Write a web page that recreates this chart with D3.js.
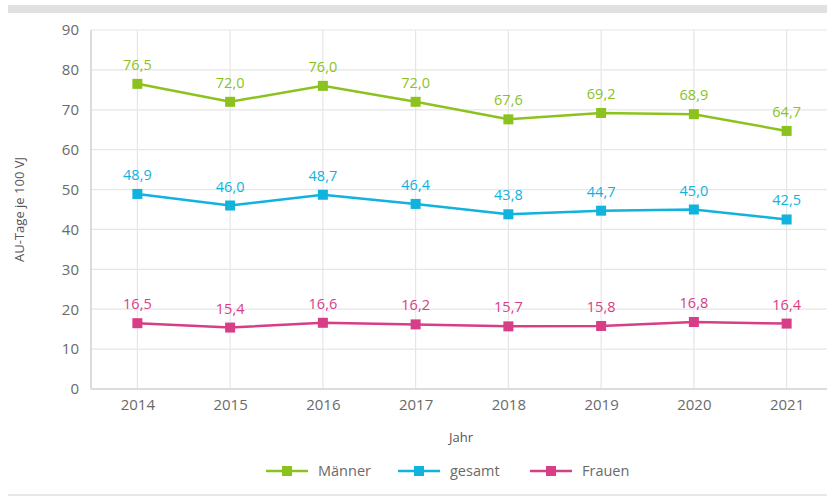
<!DOCTYPE html>
<html>
<head>
<meta charset="utf-8">
<script src="https://cdn.jsdelivr.net/npm/d3@7"></script>
<style>
  body { margin: 0; background: #fff; }
  text { font-family: "Open Sans", "Noto Sans", sans-serif; }
</style>
</head>
<body>
<div id="chart"></div>
<script>
var years = ["2014", "2015", "2016", "2017", "2018", "2019", "2020", "2021"];
var maenner = [76.5, 72.0, 76.0, 72.0, 67.6, 69.2, 68.9, 64.7];
var gesamt = [48.9, 46.0, 48.7, 46.4, 43.8, 44.7, 45.0, 42.5];
var frauen = [16.5, 15.4, 16.6, 16.2, 15.7, 15.8, 16.8, 16.4];
var yTicks = [0, 10, 20, 30, 40, 50, 60, 70, 80, 90];

var seriesList = [
  { name: "Männer", values: maenner, color: "#8cc21e" },
  { name: "gesamt", values: gesamt, color: "#10b2de" },
  { name: "Frauen", values: frauen, color: "#d83d88" }
];

var W = 827, H = 496;
var margin = { top: 30, left: 91, bottom: 107 };
var plotW = 742, plotH = H - margin.top - margin.bottom;

var svg = d3.select("#chart").append("svg")
  .attr("width", W).attr("height", H);

// frame bars
svg.append("rect").attr("x", 8).attr("y", 5).attr("width", W - 8).attr("height", 8).attr("fill", "#e1e1e1");
svg.append("rect").attr("x", 8).attr("y", 494).attr("width", W - 8).attr("height", 2).attr("fill", "#e8e8e8");

var g = svg.append("g").attr("transform", "translate(" + margin.left + "," + margin.top + ")");

var x = d3.scalePoint().domain(years).range([0, plotW]).padding(0.5);
var y = d3.scaleLinear().domain([0, 90]).range([plotH, 0]);

// grid
g.selectAll(".hgrid").data(yTicks).enter().append("line")
  .attr("x1", 0).attr("x2", plotW)
  .attr("y1", function (d) { return y(d); }).attr("y2", function (d) { return y(d); })
  .attr("stroke", "#e6e6e6").attr("stroke-width", 1.2);
g.selectAll(".vgrid").data(years).enter().append("line")
  .attr("x1", function (d) { return x(d); }).attr("x2", function (d) { return x(d); })
  .attr("y1", 0).attr("y2", plotH)
  .attr("stroke", "#e6e6e6").attr("stroke-width", 1.2);

// axes lines
g.append("line").attr("x1", 0).attr("x2", 0).attr("y1", 0).attr("y2", plotH)
  .attr("stroke", "#dcdcdc").attr("stroke-width", 2);
g.append("line").attr("x1", 0).attr("x2", plotW).attr("y1", plotH).attr("y2", plotH)
  .attr("stroke", "#dcdcdc").attr("stroke-width", 2);

var yAxis = g.append("g").call(d3.axisLeft(y).tickValues(yTicks).tickSize(0).tickPadding(12));
yAxis.select(".domain").remove();
yAxis.selectAll("text").attr("font-size", 15).attr("fill", "#6a6a6a");

var xAxis = g.append("g").attr("transform", "translate(0," + plotH + ")")
  .call(d3.axisBottom(x).tickSize(0).tickPadding(10));
xAxis.select(".domain").remove();
xAxis.selectAll("text").attr("font-size", 15).attr("fill", "#6a6a6a");

// axis titles
svg.append("text").attr("transform", "translate(24," + (margin.top + plotH / 2) + ") rotate(-90)")
  .attr("text-anchor", "middle").attr("font-size", 13).attr("fill", "#555").text("AU-Tage je 100 VJ");
svg.append("text").attr("x", 461).attr("y", 442).attr("text-anchor", "middle")
  .attr("font-size", 13).attr("fill", "#555").text("Jahr");

var line = d3.line()
  .x(function (d, i) { return x(years[i]); })
  .y(function (d) { return y(d); });

seriesList.forEach(function (s) {
  g.append("path").datum(s.values)
    .attr("d", line).attr("fill", "none")
    .attr("stroke", s.color).attr("stroke-width", 2.5);
  g.selectAll(null).data(s.values).enter().append("rect")
    .attr("x", function (d, i) { return x(years[i]) - 5; })
    .attr("y", function (d) { return y(d) - 5; })
    .attr("width", 10).attr("height", 10)
    .attr("fill", s.color);
  g.selectAll(null).data(s.values).enter().append("text")
    .attr("x", function (d, i) { return x(years[i]); })
    .attr("y", function (d) { return y(d) - 14; })
    .attr("text-anchor", "middle").attr("font-size", 14.5)
    .attr("fill", s.color)
    .text(function (d) { return d3.format(".1f")(d).replace(".", ","); });
});

// legend
var legendX = [266, 398, 530];
seriesList.forEach(function (s, i) {
  var lg = svg.append("g").attr("transform", "translate(" + legendX[i] + ",471)");
  lg.append("line").attr("x1", 0).attr("x2", 42).attr("y1", 0).attr("y2", 0)
    .attr("stroke", s.color).attr("stroke-width", 2.5);
  lg.append("rect").attr("x", 16).attr("y", -5).attr("width", 10).attr("height", 10).attr("fill", s.color);
  lg.append("text").attr("x", 52).attr("y", 5).attr("font-size", 14.5).attr("fill", "#6a6a6a").text(s.name);
});
</script>
</body>
</html>
